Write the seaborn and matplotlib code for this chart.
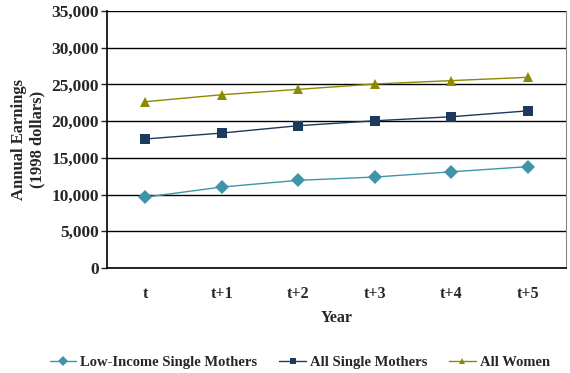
import matplotlib
matplotlib.use("Agg")
import matplotlib.pyplot as plt
import numpy as np
import pandas as pd
import seaborn as sns
from matplotlib.ticker import FuncFormatter, FixedLocator

years = ["t", "t+1", "t+2", "t+3", "t+4", "t+5"]
low_income = [9650, 11030, 11940, 12390, 13100, 13800]
all_single = [17570, 18380, 19380, 20050, 20600, 21400]
all_women = [22650, 23600, 24330, 25060, 25520, 25970]
series = ["Low-Income Single Mothers", "All Single Mothers", "All Women"]

df = pd.DataFrame({
    "pos": list(range(len(years))) * 3,
    "earn": low_income + all_single + all_women,
    "group": np.repeat(series, len(years)),
})

sns.set_style("white")
plt.rcParams['font.family'] = ['Liberation Serif', 'DejaVu Serif']
plt.rcParams['font.weight'] = 'bold'

colors = {"Low-Income Single Mothers": "#3f94a8",
          "All Single Mothers": "#1b3a5e",
          "All Women": "#8c8a00"}
markers = {"Low-Income Single Mothers": "D",
           "All Single Mothers": "s",
           "All Women": "^"}

fig = plt.figure(figsize=(5.7, 3.73), dpi=100)
ax = fig.add_axes([0.188, 0.2815, 0.805, 0.689])

ax.yaxis.grid(True, color="black", linewidth=1.0)
ax.set_axisbelow(True)

sns.lineplot(data=df, x="pos", y="earn", hue="group", style="group",
             palette=colors, markers=markers, dashes=False, linewidth=1.0,
             markersize=7, markeredgewidth=0, ax=ax)

ax.set_xlim(-0.5, 5.5)
ax.set_ylim(0, 35000)
ax.yaxis.set_major_locator(FixedLocator(np.arange(0, 35001, 5000)))
ax.yaxis.set_major_formatter(FuncFormatter(lambda v, p: f"{int(v):,}"))

ax.set_xticks(range(len(years)))
ax.set_xticklabels(years)
ax.xaxis.set_minor_locator(FixedLocator(np.arange(-0.5, 5.6, 1)))
ax.tick_params(axis="x", which="major", length=0, pad=13, labelsize=11.5)
ax.tick_params(axis="x", which="minor", length=5, width=1, direction="out", color="black")
ax.tick_params(axis="y", length=4, width=1, direction="out", left=True, labelsize=12.5, pad=2)

for s in ["left", "bottom"]:
    ax.spines[s].set_color("black")
    ax.spines[s].set_linewidth(1.2)
ax.spines["right"].set_color("#888888")
ax.spines["top"].set_visible(False)

ax.set_xlabel("Year", fontsize=11.5, fontweight="bold", labelpad=6)
ax.set_ylabel("Annual Earnings\n(1998 dollars)", fontsize=12, fontweight="bold", labelpad=4)

handles, labels = ax.get_legend_handles_labels()
for h in handles:
    h.set_markersize(5)
ax.legend(handles, labels, loc="upper center", bbox_to_anchor=(0.42, -0.29),
          ncol=3, frameon=False, fontsize=10.5, handlelength=1.8,
          columnspacing=1.5, handletextpad=0.3)

fig.savefig("out.png", dpi=100)
